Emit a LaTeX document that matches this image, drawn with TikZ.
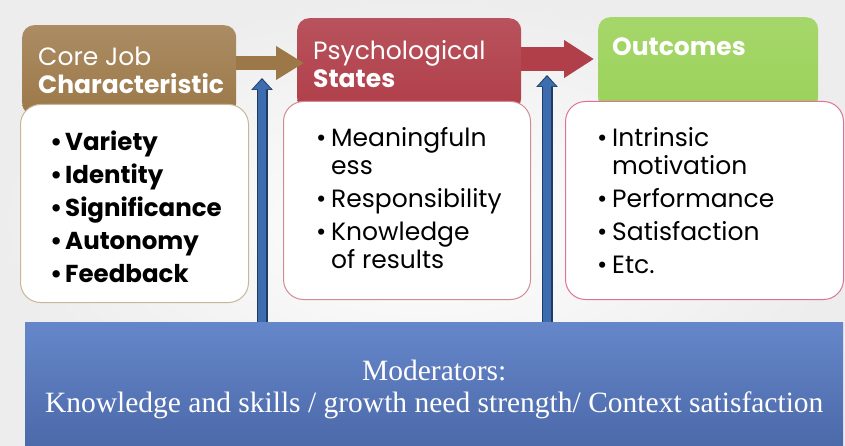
\documentclass[tikz,border=0pt]{standalone}
\usepackage{fontspec}
\setmainfont{Poppins}
\newfontfamily\modfont{Liberation Serif}
\usetikzlibrary{positioning,arrows.meta,calc}

\definecolor{corebrown}{HTML}{9C7848}
\definecolor{statered}{HTML}{B03F4A}
\definecolor{outgreen}{HTML}{9BD25A}
\definecolor{modtop}{HTML}{6587CA}
\definecolor{modbot}{HTML}{4C69A9}
\definecolor{uparrowblue}{HTML}{3D6DAE}
\definecolor{uparrowdark}{HTML}{1E3A66}

\newcommand{\itm}{\makebox[15pt][l]{\textbullet}}
\newcommand{\cnt}{\hspace*{15pt}}

\tikzset{
  hdbox/.style={rounded corners=12pt, minimum width=218pt, minimum height=90pt, anchor=north west, inner sep=0pt},
  hdtext/.style={text=white, font=\fontsize{25}{28}\selectfont, align=left, anchor=north west, inner sep=0pt},
  listbox/.style={fill=white, rounded corners=20pt, line width=1pt, minimum height=198pt, anchor=north west, inner sep=0pt},
  listtext/.style={font=\fontsize{25}{28}\selectfont, align=left, anchor=north west, inner sep=0pt},
}

\begin{document}
\begin{tikzpicture}[x=1pt,y=-1pt]
\useasboundingbox (0,0) rectangle (845,446);
\shade[inner color=white, outer color=gray!14] (0,0) rectangle (845,446);

% header boxes
\node[hdbox, top color=corebrown!85!white, bottom color=corebrown, minimum width=214pt] (corehd) at (22,25) {};
\node[hdbox, top color=statered!90!white, bottom color=statered, minimum width=224pt, minimum height=92pt] (statehd) at (297,18) {};
\node[hdbox, top color=outgreen!90!white, bottom color=outgreen, minimum width=220pt, minimum height=92pt] (outhd) at (598,17) {};

\node[hdtext] (coretx) at (38,47) {Core Job\\\textbf{Characteristic}};
\node[hdtext] (statetx) at (313,40) {Psychological\\\textbf{States}};
\node[hdtext] (outtx) at (612,38) {\textbf{Outcomes}};

% arrows between the headers
\coordinate (browntip) at (304,63);
\coordinate (redtip) at (594,59);
\draw[corebrown, line width=14pt, -{Triangle[length=28pt,width=32pt]}] (corehd.east |- browntip) -- (browntip);
\draw[statered, line width=24pt, -{Triangle[length=30pt,width=36pt]}] (statehd.east |- redtip) -- (redtip);

% list boxes
\node[listbox, draw=corebrown!55, minimum width=228pt] (corebx) at (20,104) {};
\node[listbox, draw=statered!60, minimum width=247pt] (statebx) at (283,101) {};
\node[listbox, draw=purple!55, minimum width=278pt] (outbx) at (565,101) {};

\node[listtext, font=\fontsize{24.5}{33}\selectfont\bfseries] (coreli) at (50,131)
  {\itm Variety\\\itm Identity\\\itm Significance\\\itm Autonomy\\\itm Feedback};
\node[listtext] (stateli) at (316,127)
  {\itm Meaningfuln\\\cnt ess\\[5pt]\itm Responsibility\\[5pt]\itm Knowledge\\\cnt of results};
\node[listtext] (outli) at (597,127)
  {\itm Intrinsic\\\cnt motivation\\[5pt]\itm Performance\\[5pt]\itm Satisfaction\\[5pt]\itm Etc.};

% moderators
\node[top color=modtop, bottom color=modbot, minimum width=818pt, minimum height=124pt, anchor=north west, inner sep=0pt] (mod) at (25,322) {};
\node[text=white, align=center, font=\modfont\fontsize{29.5}{32}\selectfont, yshift=-5pt] (modtx) at (mod.center)
  {Moderators:\\Knowledge and skills / growth need strength/ Context satisfaction};

\coordinate (uptipA) at (262,78);
\coordinate (uptipB) at (547,75);
\foreach \t in {uptipA,uptipB}{
  \draw[uparrowdark, line width=11pt, -{Triangle[length=12pt,width=21pt]}] (mod.north -| \t) -- (\t);
  \draw[uparrowblue, line width=8.6pt, shorten >=1.5pt, -{Triangle[length=10pt,width=18pt]}] (mod.north -| \t) -- (\t);
}
\end{tikzpicture}
\end{document}
